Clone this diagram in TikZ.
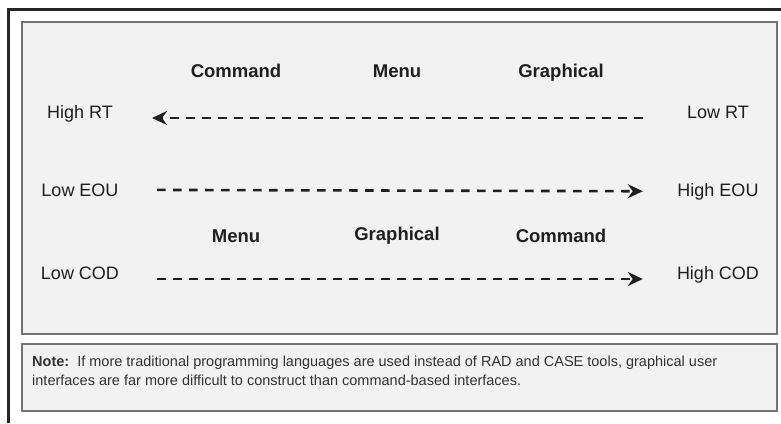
\documentclass[tikz,border=0pt]{standalone}
\usepackage{fontspec}
\setmainfont{Liberation Sans}
\usetikzlibrary{arrows.meta,positioning}

\begin{document}
\begin{tikzpicture}[x=1pt,y=-1pt,font=\fontsize{18}{21}\selectfont,text=black!88,
  lbl/.style={anchor=base,inner sep=0pt},
  head/.style={lbl,font=\fontsize{18.5}{21}\selectfont\bfseries},
  panel/.style={draw=black!55,line width=1.5pt,fill=black!5},
  dasharr/.style={-{Stealth[length=15pt,width=14pt,inset=5pt]},line width=2.6pt,black!88,dash pattern=on 8.5pt off 7.5pt}]
\useasboundingbox (0,0) rectangle (781,423);
\draw[line width=3pt,black!85] (8,423) |- (781,9);
\draw[panel] (22,22) rectangle (777,334);
\draw[panel] (22,344) rectangle (777,411);
% top ordering
\node[head] (cmd1) at (236,77) {Command};
\node[head] (menu1) at (397,77) {Menu};
\node[head] (gui1) at (561,77) {Graphical};
% row labels
\node[lbl] (highrt) at (80,118) {High RT};
\node[lbl] (lowrt) at (718,118) {Low RT};
\node[lbl] (loweou) at (80,196) {Low EOU};
\node[lbl] (higheou) at (718,196) {High EOU};
% bottom ordering
\node[head] (menu2) at (236,242) {Menu};
\node[head] (gui2) at (397,240) {Graphical};
\node[head] (cmd2) at (561,242) {Command};
\node[lbl] (lowcod) at (80,279) {Low COD};
\node[lbl] (highcod) at (718,279) {High COD};
% arrows
\draw[dasharr,shorten <=44pt,shorten >=39pt] (lowrt.base west) -- (highrt.base east);
\draw[dasharr,shorten <=38.5pt,shorten >=34.5pt] (loweou.east) -- (higheou.west);
\draw[dasharr,shorten <=38pt,shorten >=34pt] (lowcod.base east) -- (highcod.base west);
% note
\node[anchor=north west,inner sep=0pt,align=left,text=black!80,font=\fontsize{14.5}{19}\selectfont] (note) at (32,356)
  {\textbf{Note:}\ \ If more traditional programming languages are used instead of RAD and CASE tools, graphical user\\
   interfaces are far more difficult to construct than command-based interfaces.};
\end{tikzpicture}
\end{document}
